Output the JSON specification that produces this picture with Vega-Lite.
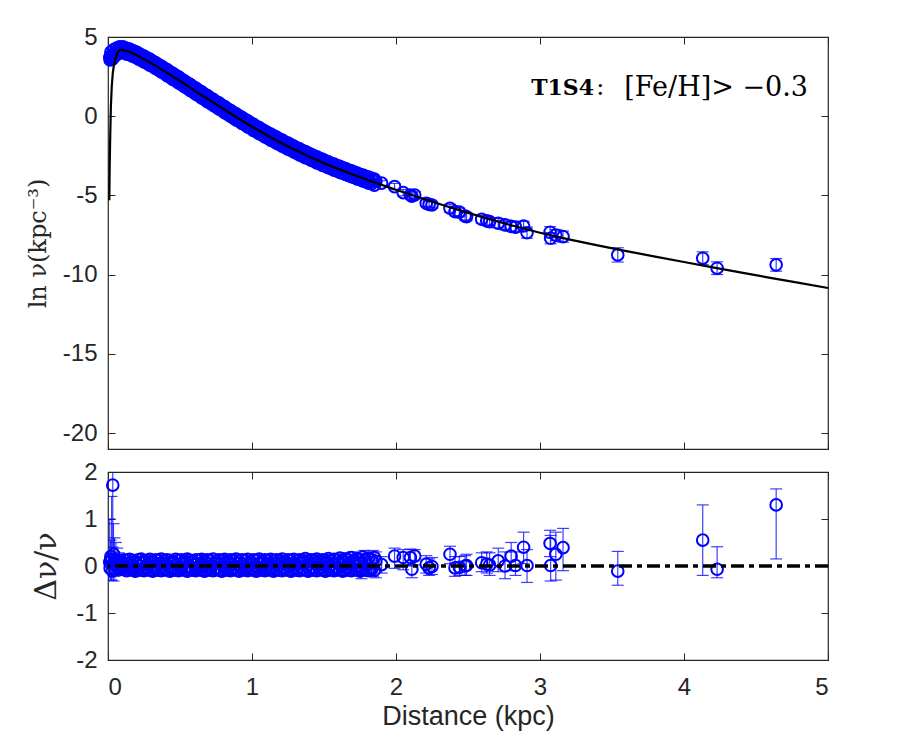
{
  "$schema": "https://vega.github.io/schema/vega-lite/v6.json",
  "autosize": {"type": "none"},
  "padding": {"left": 108, "top": 37, "right": 792, "bottom": 713},
  "spacing": 23,
  "bounds": "flush",
  "background": "white",
  "config": {
    "view": {"stroke": "#262626", "strokeWidth": 1.2},
    "axis": {"grid": false, "domain": false, "tickSize": -7, "tickColor": "#262626", "tickWidth": 1, "labelFont": "Liberation Sans", "labelFontSize": 24, "labelColor": "#262626", "labelPadding": 18, "titleColor": "#262626"}
  },
  "datasets": {
    "pts": [
      {"d":0.012,"ln":3.7,"r":0.08},{"d":0.018,"ln":3.78,"r":0.12},{"d":0.025,"ln":3.85,"r":0.15},{"d":0.033,"ln":3.72,"r":1.72},{"d":0.038,"ln":3.9,"r":0.05},{"d":0.045,"ln":3.98,"r":0.1},{"d":0.055,"ln":4.05,"r":0.05},{"d":0.065,"ln":4.12,"r":0.03},{"d":0.075,"ln":4.18,"r":0.02},{"d":0.085,"ln":4.22,"r":0.0},{"d":0.095,"ln":4.22,"r":0.04},
      {"d":0.02,"ln":4.05,"r":0.2},{"d":0.04,"ln":4.2,"r":0.25},{"d":0.06,"ln":4.3,"r":0.12},{"d":0.08,"ln":4.38,"r":0.1},{"d":0.1,"ln":4.38,"r":0.08},
      {"d":0.015,"ln":3.55,"r":-0.05},{"d":0.03,"ln":3.6,"r":-0.1},{"d":0.05,"ln":3.8,"r":-0.08},{"d":0.07,"ln":3.95,"r":-0.05},{"d":0.09,"ln":4.02,"r":-0.06},
      {"d":0.10,"ln":4.22,"r":0.03},{"d":0.12,"ln":4.11,"r":-0.02},{"d":0.14,"ln":4.13,"r":0.05},{"d":0.16,"ln":4.02,"r":0.01},{"d":0.18,"ln":3.90,"r":-0.03},{"d":0.20,"ln":3.89,"r":0.04},{"d":0.22,"ln":3.75,"r":0.0},{"d":0.24,"ln":3.71,"r":0.06},{"d":0.26,"ln":3.53,"r":-0.02},{"d":0.28,"ln":3.47,"r":0.02},
      {"d":0.30,"ln":3.43,"r":0.08},{"d":0.32,"ln":3.21,"r":-0.03},{"d":0.34,"ln":3.14,"r":0.01},{"d":0.36,"ln":3.07,"r":0.05},{"d":0.38,"ln":2.90,"r":-0.01},{"d":0.40,"ln":2.83,"r":0.03},{"d":0.42,"ln":2.68,"r":0.0},{"d":0.44,"ln":2.53,"r":-0.04},{"d":0.46,"ln":2.51,"r":0.06},{"d":0.48,"ln":2.36,"r":0.02},
      {"d":0.50,"ln":2.20,"r":-0.02},{"d":0.52,"ln":2.14,"r":0.04},{"d":0.54,"ln":2.07,"r":0.09},{"d":0.56,"ln":1.87,"r":0.0},{"d":0.58,"ln":1.72,"r":-0.03},{"d":0.60,"ln":1.66,"r":0.03},{"d":0.62,"ln":1.56,"r":0.05},{"d":0.64,"ln":1.38,"r":-0.01},{"d":0.66,"ln":1.30,"r":0.02},{"d":0.68,"ln":1.23,"r":0.07},
      {"d":0.70,"ln":1.02,"r":-0.02},{"d":0.72,"ln":0.93,"r":0.01},{"d":0.74,"ln":0.85,"r":0.04},{"d":0.76,"ln":0.66,"r":-0.03},{"d":0.78,"ln":0.64,"r":0.06},{"d":0.80,"ln":0.48,"r":0.02},{"d":0.82,"ln":0.34,"r":-0.01},{"d":0.84,"ln":0.32,"r":0.09},{"d":0.86,"ln":0.15,"r":0.03},{"d":0.88,"ln":-0.02,"r":-0.02},
      {"d":0.90,"ln":-0.06,"r":0.05},{"d":0.92,"ln":-0.22,"r":0.0},{"d":0.94,"ln":-0.30,"r":0.03},{"d":0.96,"ln":-0.48,"r":-0.04},{"d":0.98,"ln":-0.53,"r":0.02},{"d":1.00,"ln":-0.60,"r":0.06},{"d":1.02,"ln":-0.75,"r":0.01},{"d":1.04,"ln":-0.89,"r":-0.02},{"d":1.06,"ln":-0.93,"r":0.04},{"d":1.08,"ln":-1.00,"r":0.08},
      {"d":1.10,"ln":-1.18,"r":0.0},{"d":1.12,"ln":-1.25,"r":0.03},{"d":1.14,"ln":-1.41,"r":-0.03},{"d":1.16,"ln":-1.42,"r":0.05},{"d":1.18,"ln":-1.56,"r":0.01},{"d":1.20,"ln":-1.60,"r":0.07},{"d":1.22,"ln":-1.78,"r":-0.02},{"d":1.24,"ln":-1.82,"r":0.03},{"d":1.26,"ln":-1.95,"r":0.0},{"d":1.28,"ln":-1.99,"r":0.05},
      {"d":1.30,"ln":-2.11,"r":0.02},{"d":1.32,"ln":-2.26,"r":-0.04},{"d":1.34,"ln":-2.24,"r":0.06},{"d":1.36,"ln":-2.29,"r":0.10},{"d":1.38,"ln":-2.46,"r":0.01},{"d":1.40,"ln":-2.52,"r":0.04},{"d":1.42,"ln":-2.66,"r":-0.02},{"d":1.44,"ln":-2.65,"r":0.07},{"d":1.46,"ln":-2.77,"r":0.03},{"d":1.48,"ln":-2.91,"r":-0.03},
      {"d":1.50,"ln":-2.91,"r":0.05},{"d":1.52,"ln":-2.95,"r":0.08},{"d":1.54,"ln":-3.11,"r":0.0},{"d":1.56,"ln":-3.14,"r":0.04},{"d":1.58,"ln":-3.31,"r":-0.05},{"d":1.60,"ln":-3.27,"r":0.06},{"d":1.62,"ln":-3.38,"r":0.02},{"d":1.64,"ln":-3.38,"r":0.09},{"d":1.66,"ln":-3.57,"r":-0.03},{"d":1.68,"ln":-3.56,"r":0.05},
      {"d":1.70,"ln":-3.57,"r":0.11},{"d":1.72,"ln":-3.75,"r":0.0},{"d":1.74,"ln":-3.74,"r":0.07},{"d":1.76,"ln":-3.94,"r":-0.06},{"d":1.78,"ln":-3.82,"r":0.12},{"d":1.80,"ln":-3.98,"r":0.03},{"d":1.82,"ln":-4.12,"r":-0.05},{"d":1.84,"ln":-4.06,"r":0.08},{"d":1.86,"ln":-4.10,"r":0.10},
      {"d":0.11,"ln":4.35,"r":0.13},{"d":0.13,"ln":4.29,"r":0.11},{"d":0.15,"ln":4.24,"r":0.14},{"d":0.17,"ln":4.15,"r":0.12},{"d":0.19,"ln":4.08,"r":0.10},{"d":0.21,"ln":3.99,"r":0.13},{"d":0.23,"ln":3.88,"r":0.15},{"d":0.25,"ln":3.80,"r":0.11},{"d":0.27,"ln":3.68,"r":0.12},{"d":0.29,"ln":3.60,"r":0.14},
      {"d":0.31,"ln":3.48,"r":0.10},{"d":0.33,"ln":3.39,"r":0.13},{"d":0.35,"ln":3.26,"r":0.12},{"d":0.37,"ln":3.17,"r":0.15},{"d":0.39,"ln":3.04,"r":0.11},{"d":0.41,"ln":2.94,"r":0.13},{"d":0.43,"ln":2.81,"r":0.12},{"d":0.45,"ln":2.71,"r":0.10},{"d":0.47,"ln":2.58,"r":0.14},{"d":0.49,"ln":2.48,"r":0.12},
      {"d":0.51,"ln":2.34,"r":0.13},{"d":0.53,"ln":2.24,"r":0.11},{"d":0.55,"ln":2.11,"r":0.15},{"d":0.57,"ln":2.01,"r":0.12},{"d":0.59,"ln":1.87,"r":0.10},{"d":0.61,"ln":1.77,"r":0.13},{"d":0.63,"ln":1.63,"r":0.12},{"d":0.65,"ln":1.54,"r":0.14},{"d":0.67,"ln":1.40,"r":0.11},{"d":0.69,"ln":1.30,"r":0.13},
      {"d":0.71,"ln":1.16,"r":0.12},{"d":0.73,"ln":1.07,"r":0.15},{"d":0.75,"ln":0.93,"r":0.10},{"d":0.77,"ln":0.84,"r":0.13},{"d":0.79,"ln":0.70,"r":0.12},{"d":0.81,"ln":0.61,"r":0.14},{"d":0.83,"ln":0.47,"r":0.11},{"d":0.85,"ln":0.38,"r":0.13},{"d":0.87,"ln":0.24,"r":0.12},{"d":0.89,"ln":0.15,"r":0.15},
      {"d":0.91,"ln":0.02,"r":0.11},{"d":0.93,"ln":-0.07,"r":0.13},{"d":0.95,"ln":-0.20,"r":0.12},{"d":0.97,"ln":-0.29,"r":0.14},{"d":0.99,"ln":-0.42,"r":0.10},{"d":1.01,"ln":-0.51,"r":0.13},{"d":1.03,"ln":-0.63,"r":0.12},{"d":1.05,"ln":-0.72,"r":0.15},{"d":1.07,"ln":-0.84,"r":0.11},{"d":1.09,"ln":-0.93,"r":0.13},
      {"d":1.11,"ln":-1.05,"r":0.12},{"d":1.13,"ln":-1.13,"r":0.14},{"d":1.15,"ln":-1.24,"r":0.11},{"d":1.17,"ln":-1.32,"r":0.13},{"d":1.19,"ln":-1.44,"r":0.12},{"d":1.21,"ln":-1.51,"r":0.15},{"d":1.23,"ln":-1.63,"r":0.10},{"d":1.25,"ln":-1.70,"r":0.13},{"d":1.27,"ln":-1.81,"r":0.12},{"d":1.29,"ln":-1.88,"r":0.14},
      {"d":1.31,"ln":-1.99,"r":0.11},{"d":1.33,"ln":-2.06,"r":0.13},{"d":1.35,"ln":-2.17,"r":0.12},{"d":1.37,"ln":-2.23,"r":0.16},{"d":1.39,"ln":-2.33,"r":0.11},{"d":1.41,"ln":-2.40,"r":0.13},{"d":1.43,"ln":-2.50,"r":0.12},{"d":1.45,"ln":-2.56,"r":0.15},{"d":1.47,"ln":-2.66,"r":0.11},{"d":1.49,"ln":-2.72,"r":0.13},
      {"d":1.51,"ln":-2.82,"r":0.12},{"d":1.53,"ln":-2.87,"r":0.16},{"d":1.55,"ln":-2.97,"r":0.11},{"d":1.57,"ln":-3.02,"r":0.14},{"d":1.59,"ln":-3.11,"r":0.12},{"d":1.61,"ln":-3.16,"r":0.17},{"d":1.63,"ln":-3.25,"r":0.12},{"d":1.65,"ln":-3.30,"r":0.15},{"d":1.67,"ln":-3.39,"r":0.13},{"d":1.69,"ln":-3.44,"r":0.18},
      {"d":1.71,"ln":-3.53,"r":0.12},{"d":1.73,"ln":-3.58,"r":0.16},{"d":1.75,"ln":-3.66,"r":0.13},{"d":1.77,"ln":-3.71,"r":0.19},{"d":1.79,"ln":-3.79,"r":0.14},{"d":1.81,"ln":-3.84,"r":0.17},{"d":1.83,"ln":-3.92,"r":0.13},{"d":1.85,"ln":-3.97,"r":0.18},
      {"d":0.11,"ln":3.99,"r":-0.08},{"d":0.13,"ln":3.92,"r":-0.10},{"d":0.15,"ln":3.89,"r":-0.07},{"d":0.17,"ln":3.79,"r":-0.09},{"d":0.19,"ln":3.73,"r":-0.11},{"d":0.21,"ln":3.62,"r":-0.08},{"d":0.23,"ln":3.54,"r":-0.09},{"d":0.25,"ln":3.42,"r":-0.10},{"d":0.27,"ln":3.34,"r":-0.07},{"d":0.29,"ln":3.22,"r":-0.09},
      {"d":0.31,"ln":3.14,"r":-0.11},{"d":0.33,"ln":3.01,"r":-0.08},{"d":0.35,"ln":2.92,"r":-0.09},{"d":0.37,"ln":2.79,"r":-0.10},{"d":0.39,"ln":2.70,"r":-0.07},{"d":0.41,"ln":2.56,"r":-0.09},{"d":0.43,"ln":2.47,"r":-0.11},{"d":0.45,"ln":2.33,"r":-0.08},{"d":0.47,"ln":2.24,"r":-0.09},{"d":0.49,"ln":2.10,"r":-0.10},
      {"d":0.51,"ln":2.00,"r":-0.07},{"d":0.53,"ln":1.86,"r":-0.09},{"d":0.55,"ln":1.77,"r":-0.11},{"d":0.57,"ln":1.63,"r":-0.08},{"d":0.59,"ln":1.53,"r":-0.09},{"d":0.61,"ln":1.39,"r":-0.10},{"d":0.63,"ln":1.29,"r":-0.07},{"d":0.65,"ln":1.16,"r":-0.09},{"d":0.67,"ln":1.06,"r":-0.11},{"d":0.69,"ln":0.92,"r":-0.08},
      {"d":0.71,"ln":0.82,"r":-0.09},{"d":0.73,"ln":0.69,"r":-0.10},{"d":0.75,"ln":0.59,"r":-0.07},{"d":0.77,"ln":0.46,"r":-0.09},{"d":0.79,"ln":0.36,"r":-0.11},{"d":0.81,"ln":0.23,"r":-0.08},{"d":0.83,"ln":0.13,"r":-0.09},{"d":0.85,"ln":0.00,"r":-0.10},{"d":0.87,"ln":-0.10,"r":-0.07},{"d":0.89,"ln":-0.23,"r":-0.09},
      {"d":0.91,"ln":-0.32,"r":-0.11},{"d":0.93,"ln":-0.45,"r":-0.08},{"d":0.95,"ln":-0.54,"r":-0.09},{"d":0.97,"ln":-0.67,"r":-0.10},{"d":0.99,"ln":-0.76,"r":-0.07},{"d":1.01,"ln":-0.89,"r":-0.09},{"d":1.03,"ln":-0.97,"r":-0.11},{"d":1.05,"ln":-1.10,"r":-0.08},{"d":1.07,"ln":-1.18,"r":-0.09},{"d":1.09,"ln":-1.31,"r":-0.10},
      {"d":1.11,"ln":-1.39,"r":-0.07},{"d":1.13,"ln":-1.51,"r":-0.09},{"d":1.15,"ln":-1.58,"r":-0.11},{"d":1.17,"ln":-1.70,"r":-0.08},{"d":1.19,"ln":-1.78,"r":-0.09},{"d":1.21,"ln":-1.89,"r":-0.10},{"d":1.23,"ln":-1.97,"r":-0.07},{"d":1.25,"ln":-2.08,"r":-0.09},{"d":1.27,"ln":-2.15,"r":-0.11},{"d":1.29,"ln":-2.26,"r":-0.08},
      {"d":1.31,"ln":-2.33,"r":-0.09},{"d":1.33,"ln":-2.44,"r":-0.10},{"d":1.35,"ln":-2.51,"r":-0.07},{"d":1.37,"ln":-2.61,"r":-0.09},{"d":1.39,"ln":-2.67,"r":-0.11},{"d":1.41,"ln":-2.78,"r":-0.08},{"d":1.43,"ln":-2.84,"r":-0.09},{"d":1.45,"ln":-2.94,"r":-0.10},{"d":1.47,"ln":-3.00,"r":-0.07},{"d":1.49,"ln":-3.10,"r":-0.09},
      {"d":1.51,"ln":-3.16,"r":-0.11},{"d":1.53,"ln":-3.25,"r":-0.08},{"d":1.55,"ln":-3.31,"r":-0.09},{"d":1.57,"ln":-3.40,"r":-0.10},{"d":1.59,"ln":-3.45,"r":-0.07},{"d":1.61,"ln":-3.54,"r":-0.09},{"d":1.63,"ln":-3.59,"r":-0.11},{"d":1.65,"ln":-3.68,"r":-0.08},{"d":1.67,"ln":-3.73,"r":-0.09},{"d":1.69,"ln":-3.82,"r":-0.10},
      {"d":1.71,"ln":-3.87,"r":-0.07},{"d":1.73,"ln":-3.96,"r":-0.09},{"d":1.75,"ln":-4.00,"r":-0.11},{"d":1.77,"ln":-4.09,"r":-0.08},{"d":1.79,"ln":-4.13,"r":-0.09},{"d":1.81,"ln":-4.22,"r":-0.10},{"d":1.83,"ln":-4.26,"r":-0.07},{"d":1.85,"ln":-4.35,"r":-0.09},
      {"d":1.90,"ln":-4.22,"r":0.03},{"d":1.99,"ln":-4.44,"r":0.21},{"d":2.05,"ln":-4.82,"r":0.18},{"d":2.10,"ln":-4.97,"r":0.18},{"d":2.11,"ln":-5.05,"r":-0.07},{"d":2.13,"ln":-4.97,"r":0.21},{"d":2.21,"ln":-5.49,"r":0.04},{"d":2.23,"ln":-5.56,"r":-0.04},{"d":2.25,"ln":-5.60,"r":-0.01},{"d":2.375,"ln":-5.81,"r":0.25},
      {"d":2.41,"ln":-6.02,"r":-0.04},{"d":2.44,"ln":-6.05,"r":-0.03},{"d":2.48,"ln":-6.30,"r":0.0},{"d":2.49,"ln":-6.34,"r":0.01},{"d":2.595,"ln":-6.50,"r":0.07},{"d":2.63,"ln":-6.60,"r":0.04},{"d":2.65,"ln":-6.65,"r":0.02},{"d":2.71,"ln":-6.75,"r":0.11},{"d":2.757,"ln":-6.86,"r":0.0},{"d":2.80,"ln":-6.95,"r":0.21},
      {"d":2.83,"ln":-7.00,"r":0.01},{"d":2.886,"ln":-6.93,"r":0.40},{"d":2.91,"ln":-7.35,"r":0.01},{"d":3.07,"ln":-7.32,"r":0.48},{"d":3.074,"ln":-7.70,"r":0.01},{"d":3.11,"ln":-7.50,"r":0.25},{"d":3.16,"ln":-7.60,"r":0.39},{"d":3.54,"ln":-8.75,"r":-0.11},{"d":4.13,"ln":-8.96,"r":0.55},{"d":4.23,"ln":-9.59,"r":-0.07},{"d":4.64,"ln":-9.38,"r":1.30}
    ],
    "terr": [
      {"d":1.90,"lo":-4.37,"hi":-4.07},{"d":1.99,"lo":-4.64,"hi":-4.24},{"d":2.05,"lo":-5.02,"hi":-4.62},{"d":2.10,"lo":-5.17,"hi":-4.77},{"d":2.11,"lo":-5.25,"hi":-4.85},{"d":2.13,"lo":-5.17,"hi":-4.77},{"d":2.21,"lo":-5.69,"hi":-5.29},{"d":2.23,"lo":-5.76,"hi":-5.36},{"d":2.25,"lo":-5.80,"hi":-5.40},{"d":2.375,"lo":-6.06,"hi":-5.56},
      {"d":2.41,"lo":-6.27,"hi":-5.77},{"d":2.44,"lo":-6.30,"hi":-5.80},{"d":2.48,"lo":-6.55,"hi":-6.05},{"d":2.49,"lo":-6.59,"hi":-6.09},{"d":2.595,"lo":-6.75,"hi":-6.25},{"d":2.63,"lo":-6.85,"hi":-6.35},{"d":2.65,"lo":-6.90,"hi":-6.40},{"d":2.71,"lo":-7.05,"hi":-6.45},{"d":2.757,"lo":-7.16,"hi":-6.56},{"d":2.80,"lo":-7.25,"hi":-6.65},
      {"d":2.83,"lo":-7.30,"hi":-6.70},{"d":2.886,"lo":-7.23,"hi":-6.63},{"d":2.91,"lo":-7.70,"hi":-7.00},{"d":3.07,"lo":-7.67,"hi":-6.97},{"d":3.074,"lo":-8.05,"hi":-7.35},{"d":3.11,"lo":-7.85,"hi":-7.15},{"d":3.16,"lo":-7.95,"hi":-7.25},{"d":3.54,"lo":-9.20,"hi":-8.30},{"d":4.13,"lo":-9.36,"hi":-8.56},{"d":4.23,"lo":-9.99,"hi":-9.19},{"d":4.64,"lo":-9.78,"hi":-8.98}
    ],
    "berr": [
      {"d":0.012,"lo":-0.25,"hi":1.0},{"d":0.018,"lo":-0.3,"hi":0.55},{"d":0.025,"lo":-0.3,"hi":1.48},{"d":0.033,"lo":0.4,"hi":3.0},{"d":0.038,"lo":-0.32,"hi":0.9},{"d":0.045,"lo":-0.22,"hi":0.6},{"d":0.055,"lo":-0.2,"hi":0.5},{"d":0.065,"lo":-0.15,"hi":0.38},{"d":0.075,"lo":-0.12,"hi":0.28},{"d":0.085,"lo":-0.1,"hi":0.2},
      {"d":1.50,"lo":-0.1,"hi":0.2},{"d":1.60,"lo":-0.12,"hi":0.25},{"d":1.64,"lo":-0.1,"hi":0.28},{"d":1.70,"lo":-0.12,"hi":0.3},{"d":1.76,"lo":-0.27,"hi":0.17},{"d":1.78,"lo":-0.1,"hi":0.33},{"d":1.84,"lo":-0.22,"hi":0.33},{"d":1.86,"lo":-0.25,"hi":0.3},
      {"d":1.90,"lo":-0.15,"hi":0.2},{"d":1.99,"lo":-0.05,"hi":0.38},{"d":2.05,"lo":-0.08,"hi":0.35},{"d":2.10,"lo":0.0,"hi":0.36},{"d":2.11,"lo":-0.25,"hi":0.12},{"d":2.13,"lo":0.02,"hi":0.35},{"d":2.21,"lo":-0.15,"hi":0.22},{"d":2.23,"lo":-0.2,"hi":0.15},{"d":2.25,"lo":-0.18,"hi":0.18},{"d":2.375,"lo":0.05,"hi":0.42},
      {"d":2.41,"lo":-0.22,"hi":0.2},{"d":2.44,"lo":-0.2,"hi":0.2},{"d":2.48,"lo":-0.2,"hi":0.22},{"d":2.49,"lo":-0.2,"hi":0.25},{"d":2.595,"lo":-0.12,"hi":0.28},{"d":2.63,"lo":-0.15,"hi":0.3},{"d":2.65,"lo":-0.2,"hi":0.28},{"d":2.71,"lo":-0.12,"hi":0.38},{"d":2.757,"lo":-0.27,"hi":0.3},{"d":2.80,"lo":-0.1,"hi":0.5},
      {"d":2.83,"lo":-0.2,"hi":0.3},{"d":2.886,"lo":0.05,"hi":0.72},{"d":2.91,"lo":-0.35,"hi":0.35},{"d":3.07,"lo":0.2,"hi":0.76},{"d":3.074,"lo":-0.32,"hi":0.65},{"d":3.11,"lo":-0.3,"hi":0.72},{"d":3.16,"lo":-0.1,"hi":0.8},{"d":3.54,"lo":-0.41,"hi":0.31},{"d":4.13,"lo":-0.2,"hi":1.3},{"d":4.23,"lo":-0.25,"hi":0.41},{"d":4.64,"lo":0.15,"hi":1.64}
    ],
    "fit": [
      {"d":0.009,"ln":-5.3},{"d":0.012,"ln":-3.0},{"d":0.016,"ln":-1.0},{"d":0.02,"ln":0.6},{"d":0.026,"ln":1.86},{"d":0.033,"ln":2.7},{"d":0.04,"ln":3.15},{"d":0.05,"ln":3.58},{"d":0.06,"ln":3.88},{"d":0.07,"ln":4.05},{"d":0.08,"ln":4.15},{"d":0.09,"ln":4.2},{"d":0.1,"ln":4.19},{"d":0.15,"ln":4.05},{"d":0.2,"ln":3.85},{"d":0.3,"ln":3.35},{"d":0.4,"ln":2.8},{"d":0.5,"ln":2.22},{"d":0.6,"ln":1.63},{"d":0.7,"ln":1.04},{"d":0.8,"ln":0.46},{"d":0.9,"ln":-0.11},{"d":1.0,"ln":-0.66},{"d":1.1,"ln":-1.18},{"d":1.2,"ln":-1.67},{"d":1.3,"ln":-2.13},{"d":1.4,"ln":-2.56},{"d":1.5,"ln":-2.96},{"d":1.6,"ln":-3.33},{"d":1.7,"ln":-3.68},{"d":1.8,"ln":-4.01},{"d":1.9,"ln":-4.33},{"d":2.0,"ln":-4.64},{"d":2.2,"ln":-5.24},{"d":2.4,"ln":-5.82},{"d":2.6,"ln":-6.37},{"d":2.8,"ln":-6.88},{"d":3.0,"ln":-7.35},{"d":3.2,"ln":-7.77},{"d":3.4,"ln":-8.15},{"d":3.6,"ln":-8.51},{"d":3.8,"ln":-8.86},{"d":4.0,"ln":-9.2},{"d":4.2,"ln":-9.54},{"d":4.4,"ln":-9.87},{"d":4.6,"ln":-10.2},{"d":4.8,"ln":-10.52},{"d":5.0,"ln":-10.84}
    ]
  },
  "vconcat": [
    {
      "width": 720,
      "height": 412,
      "resolve": {"axis": {"x": "independent", "y": "independent"}},
      "layer": [
        {
          "data": {"name": "terr"},
          "mark": {"type": "rule", "color": "#0000ff", "opacity": 0.75, "strokeWidth": 1.2, "clip": true},
          "encoding": {
            "x": {"field": "d", "type": "quantitative", "scale": {"domain": [0, 5], "nice": false, "zero": false}, "axis": {"orient": "top", "values": [0,1,2,3,4,5], "labels": false, "title": null}},
            "y": {"field": "lo", "type": "quantitative", "scale": {"domain": [-21, 5], "nice": false, "zero": false}, "axis": {"orient": "right", "values": [-20,-15,-10,-5,0,5], "labels": false, "title": null}},
            "y2": {"field": "hi"}
          }
        },
        {
          "data": {"name": "terr"},
          "mark": {"type": "tick", "orient": "horizontal", "color": "#0000ff", "opacity": 0.75, "size": 12, "thickness": 1.2},
          "encoding": {
            "x": {"field": "d", "type": "quantitative", "axis": null},
            "y": {"field": "lo", "type": "quantitative", "axis": null}
          }
        },
        {
          "data": {"name": "terr"},
          "mark": {"type": "tick", "orient": "horizontal", "color": "#0000ff", "opacity": 0.75, "size": 12, "thickness": 1.2},
          "encoding": {
            "x": {"field": "d", "type": "quantitative", "axis": null},
            "y": {"field": "hi", "type": "quantitative", "axis": null}
          }
        },
        {
          "data": {"name": "pts"},
          "mark": {"type": "point", "shape": "circle", "filled": false, "size": 135, "strokeWidth": 2, "color": "#0000ff", "opacity": 1},
          "encoding": {
            "x": {"field": "d", "type": "quantitative", "axis": {"orient": "bottom", "values": [0,1,2,3,4,5], "labels": false, "title": null}},
            "y": {"field": "ln", "type": "quantitative", "axis": {"orient": "left", "values": [-20,-15,-10,-5,0,5], "labelExpr": "'' + datum.value", "title": "ln ν(kpc⁻³)", "titleFont": "DejaVu Serif", "titleFontSize": 24, "titleFontWeight": "normal", "titleAngle": -90, "titleX": -70, "titleY": 206, "titleAlign": "center", "titleBaseline": "middle"}}
          }
        },
        {
          "data": {"name": "fit"},
          "mark": {"type": "line", "color": "black", "strokeWidth": 2.2},
          "encoding": {
            "x": {"field": "d", "type": "quantitative", "axis": null},
            "y": {"field": "ln", "type": "quantitative", "axis": null}
          }
        },
        {
          "data": {"values": [{}]},
          "mark": {"type": "text", "text": "T1S4", "font": "DejaVu Serif", "fontWeight": "bold", "fontSize": 22, "align": "right", "baseline": "middle", "color": "black"},
          "encoding": {
            "x": {"datum": 3.375, "type": "quantitative", "axis": null},
            "y": {"datum": 1.78, "type": "quantitative", "axis": null}
          }
        },
        {
          "data": {"values": [{}]},
          "mark": {"type": "text", "text": ":", "font": "DejaVu Serif", "fontSize": 24, "align": "left", "baseline": "middle", "color": "black"},
          "encoding": {
            "x": {"datum": 3.39, "type": "quantitative", "axis": null},
            "y": {"datum": 1.78, "type": "quantitative", "axis": null}
          }
        },
        {
          "data": {"values": [{}]},
          "mark": {"type": "text", "text": "[Fe/H]> −0.3", "font": "DejaVu Serif", "fontSize": 27, "align": "right", "baseline": "middle", "color": "black"},
          "encoding": {
            "x": {"datum": 4.861, "type": "quantitative", "axis": null},
            "y": {"datum": 1.78, "type": "quantitative", "axis": null}
          }
        }
      ]
    },
    {
      "width": 720,
      "height": 188,
      "resolve": {"axis": {"x": "independent", "y": "independent"}},
      "layer": [
        {
          "data": {"name": "berr"},
          "mark": {"type": "rule", "color": "#0000ff", "opacity": 0.75, "strokeWidth": 1.2, "clip": true},
          "encoding": {
            "x": {"field": "d", "type": "quantitative", "scale": {"domain": [0, 5], "nice": false, "zero": false}, "axis": {"orient": "top", "values": [0,1,2,3,4,5], "labels": false, "title": null}},
            "y": {"field": "lo", "type": "quantitative", "scale": {"domain": [-2, 2], "nice": false, "zero": false}, "axis": {"orient": "right", "values": [-2,-1,0,1,2], "labels": false, "title": null}},
            "y2": {"field": "hi"}
          }
        },
        {
          "data": {"name": "berr"},
          "mark": {"type": "tick", "orient": "horizontal", "color": "#0000ff", "opacity": 0.75, "size": 12, "thickness": 1.2, "clip": true},
          "encoding": {
            "x": {"field": "d", "type": "quantitative", "axis": null},
            "y": {"field": "lo", "type": "quantitative", "axis": null}
          }
        },
        {
          "data": {"name": "berr"},
          "mark": {"type": "tick", "orient": "horizontal", "color": "#0000ff", "opacity": 0.75, "size": 12, "thickness": 1.2, "clip": true},
          "encoding": {
            "x": {"field": "d", "type": "quantitative", "axis": null},
            "y": {"field": "hi", "type": "quantitative", "axis": null}
          }
        },
        {
          "data": {"name": "pts"},
          "mark": {"type": "point", "shape": "circle", "filled": false, "size": 135, "strokeWidth": 2, "color": "#0000ff", "opacity": 1},
          "encoding": {
            "x": {"field": "d", "type": "quantitative", "axis": {"orient": "bottom", "values": [0,1,2,3,4,5], "labelExpr": "'' + datum.value", "labelPadding": 22, "title": "Distance (kpc)", "titleFont": "Liberation Sans", "titleFontSize": 27, "titleFontWeight": "normal", "titleX": 360, "titleY": 56, "titleAlign": "center", "titleBaseline": "middle"}},
            "y": {"field": "r", "type": "quantitative", "axis": {"orient": "left", "values": [-2,-1,0,1,2], "labelExpr": "'' + datum.value", "title": "Δν/ν", "titleFont": "DejaVu Serif", "titleFontSize": 30, "titleFontWeight": "normal", "titleAngle": -90, "titleX": -62, "titleY": 94, "titleAlign": "center", "titleBaseline": "middle"}}
          }
        },
        {
          "data": {"values": [{}]},
          "mark": {"type": "rule", "color": "black", "strokeWidth": 3.5, "strokeDash": [13, 5, 5, 5]},
          "encoding": {
            "y": {"datum": 0, "type": "quantitative", "axis": null}
          }
        }
      ]
    }
  ]
}
